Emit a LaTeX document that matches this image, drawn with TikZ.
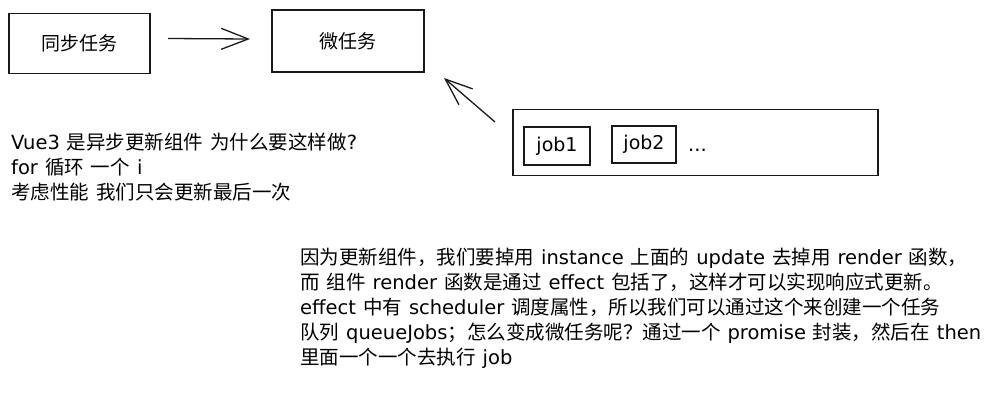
\documentclass[tikz,border=0pt]{standalone}
\usepackage{fontspec}
\setmainfont{Noto Sans CJK SC}
\newfontfamily\latfont{DejaVu Sans}
\newcommand{\latw}[1]{{\latfont #1}}
\newcommand{\widesp}{\spaceskip 7pt\relax}
\usetikzlibrary{arrows.meta}
\tikzset{
  sk/.style={draw=black!90, line width=1.3pt},
  box/.style={sk, rectangle, inner sep=0pt, font=\fontsize{19}{24}\selectfont},
  txt/.style={anchor=base west, inner sep=0pt, font={\fontsize{19.5}{25}\selectfont\widesp}},
  arr/.style={sk, -{Straight Barb[length=27pt,width=21pt,line width=1.3pt]}}
}
\begin{document}
\begin{tikzpicture}[x=1pt,y=-1pt]
\useasboundingbox (0,0) rectangle (1000,418);
% boxes
\node[box, minimum width=141pt, minimum height=60pt] (sync) at (79.5,43.5) {同步任务};
\node[box, minimum width=152pt, minimum height=62pt] (micro) at (348,41) {微任务};
\node[box, minimum width=365pt, minimum height=66pt] (queue) at (695.5,142.5) {};
\node[box, minimum width=66pt, minimum height=38pt] (job1) at (557,146) {\latw{job1}};
\node[box, minimum width=64pt, minimum height=37pt] (job2) at (644,144.5) {\latw{job2}};
\node[txt] (dots) at (688,151) {\latw{...}};
% arrows
\coordinate (a1tail) at (168,38.5);
\coordinate (a1tip) at (250,39);
\draw[arr] (a1tail) -- (a1tip);
\coordinate (a2tail) at (495,122);
\coordinate (a2tip) at (444,78);
\draw[arr] (a2tail) -- (a2tip);
% left text
\node[txt] (l1) at (11,149.5) {\latw{Vue3} 是异步更新组件 为什么要这样做\latw{?}};
\node[txt] (l2) at (11,174.5) {\latw{for} 循环 一个 \latw{i}};
\node[txt] (l3) at (11,199.5) {考虑性能 我们只会更新最后一次};
% right text
\node[txt] (r1) at (300,264.5) {因为更新组件，我们要掉用 \latw{instance} 上面的 \latw{update} 去掉用 \latw{render} 函数，};
\node[txt] (r2) at (300,289.5) {而 组件 \latw{render} 函数是通过 \latw{effect} 包括了，这样才可以实现响应式更新。};
\node[txt] (r3) at (300,314.5) {\latw{effect} 中有 \latw{scheduler} 调度属性，所以我们可以通过这个来创建一个任务};
\node[txt] (r4) at (300,339.5) {队列 \latw{queueJobs}；怎么变成微任务呢？通过一个 \latw{promise} 封装，然后在 \latw{then}};
\node[txt] (r5) at (300,364.5) {里面一个一个去执行 \latw{job}};
\end{tikzpicture}
\end{document}
